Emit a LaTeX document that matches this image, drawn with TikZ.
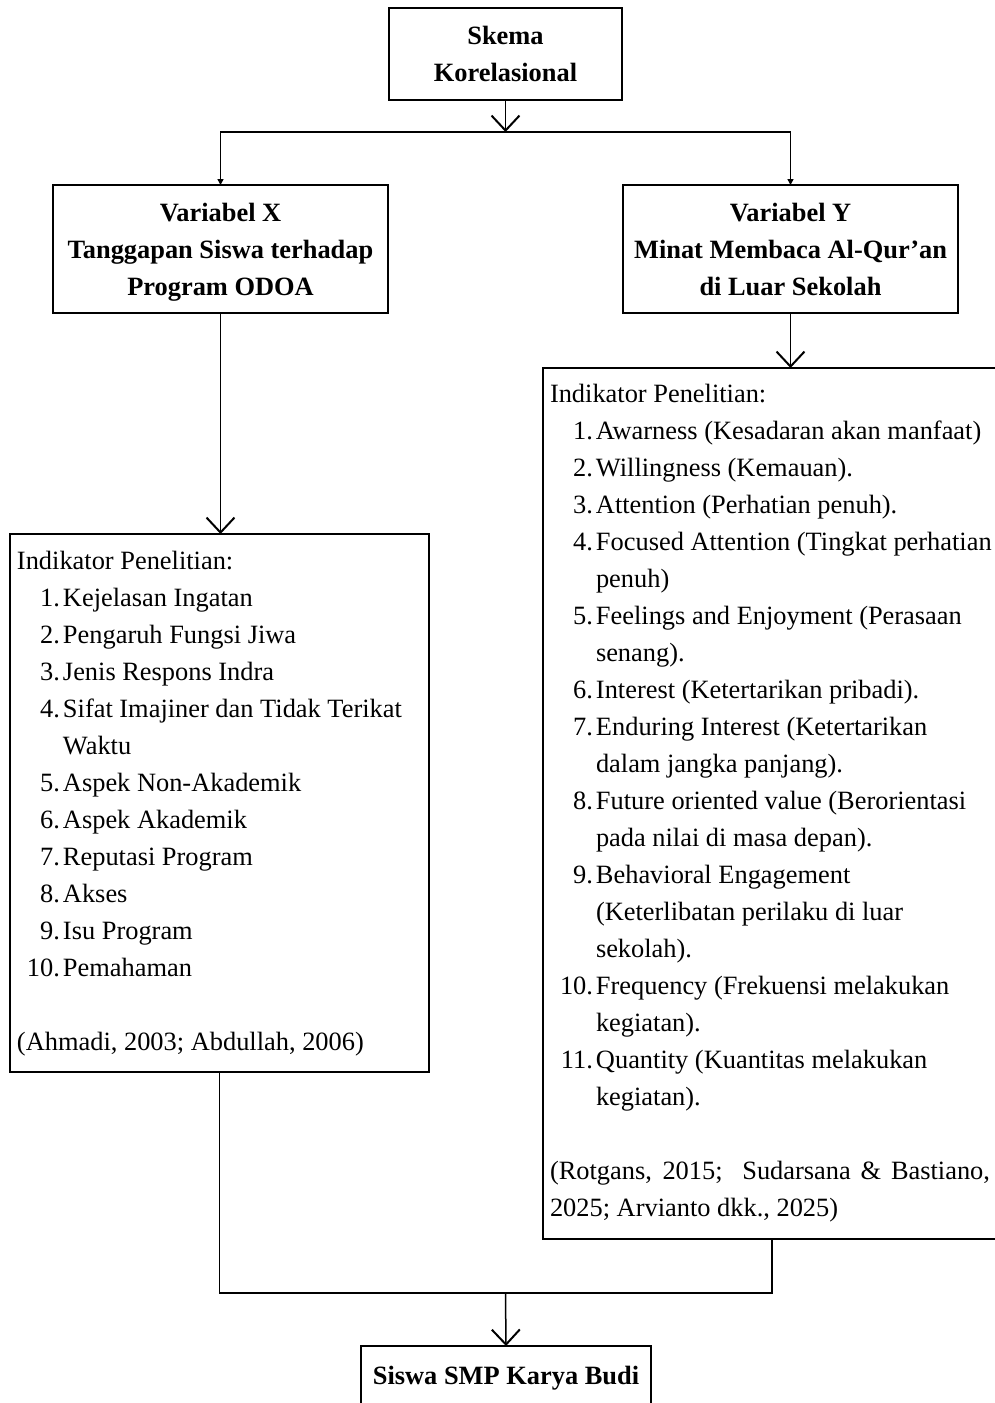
\documentclass[tikz,border=0pt]{standalone}
\usepackage{fontspec}
\setmainfont{Liberation Serif}
\usetikzlibrary{arrows.meta}
\newcommand{\itm}[2]{\makebox[21.5pt][r]{#1}\hspace{1.5pt}#2}
\newcommand{\cnt}[1]{\hspace*{23pt}#1}
\begin{document}
\begin{tikzpicture}[x=0.5pt,y=-0.5pt,
  box/.style={draw, line width=0.75pt, inner sep=0pt, outer sep=0pt, align=center,
    font=\fontsize{13.2}{18.5}\selectfont\bfseries},
  plainbox/.style={draw, line width=0.75pt, inner sep=0pt, outer sep=0pt},
  txt/.style={anchor=base west, inner sep=0pt, outer sep=0pt},
  openarrow/.style={line width=0.75pt, -{Straight Barb[length=7.5pt,width=14pt,line width=1pt]}},
  smallarrow/.style={line width=0.75pt, -{Triangle[length=3pt,width=3pt]}},
  conn/.style={line width=0.75pt}]
\useasboundingbox (0,0) rectangle (995,1403);
% boxes
\node[box, minimum width=116.5pt, minimum height=46pt] (top) at (505.5,54) {Skema\\Korelasional};
\node[box, minimum width=167.5pt, minimum height=64pt] (varX) at (220.5,249) {Variabel X\\Tanggapan Siswa terhadap\\\smash{Program ODOA}};
\node[box, minimum width=167.5pt, minimum height=64pt] (varY) at (790.5,249) {Variabel Y\\Minat Membaca Al-Qur’an\\di Luar Sekolah};
\node[plainbox, minimum width=209.5pt, minimum height=269pt] (indX) at (219.5,803) {};
\node[plainbox, minimum width=253.5pt, minimum height=435.5pt] (indY) at (796.5,803.5) {};
\node[box, minimum width=145pt, minimum height=32pt] (bot) at (506,1378) {Siswa SMP Karya Budi};
% texts
\node[txt] (tx) at (17,569) {\parbox[t]{210pt}{\fontsize{13.2}{18.5}\selectfont\raggedright
Indikator Penelitian:\\
\itm{1.}{Kejelasan Ingatan}\\
\itm{2.}{Pengaruh Fungsi Jiwa}\\
\itm{3.}{Jenis Respons Indra}\\
\itm{4.}{Sifat Imajiner dan Tidak Terikat}\\
\cnt{Waktu}\\
\itm{5.}{Aspek Non-Akademik}\\
\itm{6.}{Aspek Akademik}\\
\itm{7.}{Reputasi Program}\\
\itm{8.}{Akses}\\
\itm{9.}{Isu Program}\\
\itm{10.}{Pemahaman}\\
\mbox{}\\
(Ahmadi, 2003; Abdullah, 2006)\par}};
\node[txt] (ty) at (550,402) {\parbox[t]{240pt}{\fontsize{13.2}{18.5}\selectfont\raggedright
Indikator Penelitian:\\
\itm{1.}{Awarness (Kesadaran akan manfaat)}\\
\itm{2.}{Willingness (Kemauan).}\\
\itm{3.}{Attention (Perhatian penuh).}\\
\itm{4.}{Focused Attention (Tingkat perhatian}\\
\cnt{penuh)}\\
\itm{5.}{Feelings and Enjoyment (Perasaan}\\
\cnt{senang).}\\
\itm{6.}{Interest (Ketertarikan pribadi).}\\
\itm{7.}{Enduring Interest (Ketertarikan}\\
\cnt{dalam jangka panjang).}\\
\itm{8.}{Future oriented value (Berorientasi}\\
\cnt{pada nilai di masa depan).}\\
\itm{9.}{Behavioral Engagement}\\
\cnt{(Keterlibatan perilaku di luar}\\
\cnt{sekolah).}\\
\itm{10.}{Frequency (Frekuensi melakukan}\\
\cnt{kegiatan).}\\
\itm{11.}{Quantity (Kuantitas melakukan}\\
\cnt{kegiatan).}\\
\mbox{}\\
\makebox[220pt][s]{(Rotgans, 2015;\ \ Sudarsana \& Bastiano,}\\
2025; Arvianto dkk., 2025)\par}};
% connectors
\coordinate (j1) at (505.5,132);
\coordinate (j2) at (505.5,1293);
\coordinate (yb) at (772,1239);
\draw[openarrow] (top.south) -- (j1);
\draw[smallarrow] (j1) -| (varX.north);
\draw[smallarrow] (j1) -| (varY.north);
\draw[openarrow] (varX.south) -- (varX.south |- indX.north);
\draw[openarrow] (varY.south) -- (varY.south |- indY.north);
\draw[conn] (indX.south) |- (j2);
\draw[conn] (yb) |- (j2);
\draw[openarrow] (j2) -- (bot.north);
\end{tikzpicture}
\end{document}
